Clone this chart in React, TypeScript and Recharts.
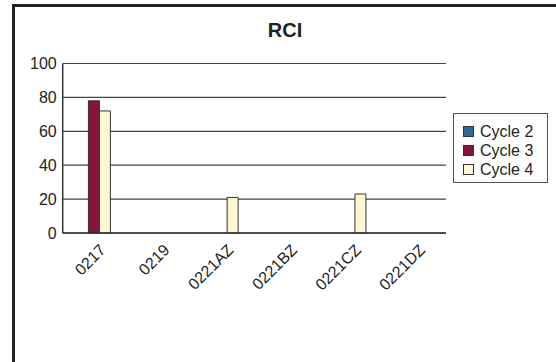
import React from 'react';
import { BarChart, Bar, XAxis, YAxis, CartesianGrid, Legend } from 'recharts';

const categories = ['0217', '0219', '0221AZ', '0221BZ', '0221CZ', '0221DZ'];
const cycle2: (number | null)[] = [null, null, null, null, null, null];
const cycle3: (number | null)[] = [78, null, null, null, null, null];
const cycle4: (number | null)[] = [72, null, 21, null, 23, null];
const yTicks = [0, 20, 40, 60, 80, 100];
const seriesNames = ['Cycle 2', 'Cycle 3', 'Cycle 4'];
const seriesColors = ['#336699', '#84153E', '#FFF6D2'];

const data = categories.map((c, i) => ({
  name: c,
  c2: cycle2[i],
  c3: cycle3[i],
  c4: cycle4[i],
}));

const FONT = '"Liberation Sans", Arial, sans-serif';

const XTick = (props: any) => {
  const { x, y, payload } = props;
  const ax = x + 12;
  const ay = y + 18;
  return (
    <text
      x={ax}
      y={ay}
      transform={`rotate(-45 ${ax} ${ay})`}
      textAnchor="end"
      fontSize={16}
      fontFamily={FONT}
      fill="#222"
    >
      {payload.value}
    </text>
  );
};

const LegendBox = () => (
  <div
    style={{
      width: 93,
      height: 68,
      border: '1px solid #555',
      background: '#fff',
      boxSizing: 'content-box',
      position: 'relative',
      fontFamily: FONT,
      fontSize: 16,
      color: '#222',
    }}
  >
    {seriesNames.map((n, i) => (
      <div
        key={n}
        style={{
          position: 'absolute',
          left: 9,
          top: 8 + i * 19,
          height: 19,
          display: 'flex',
          alignItems: 'center',
          whiteSpace: 'nowrap',
        }}
      >
        <span
          style={{
            display: 'inline-block',
            width: 9,
            height: 9,
            background: seriesColors[i],
            border: '1px solid #333',
            marginRight: 6,
          }}
        />
        <span>{n}</span>
      </div>
    ))}
  </div>
);

export default function App() {
  return (
    <div
      style={{
        position: 'absolute',
        left: 0,
        top: 0,
        width: 556,
        height: 362,
        overflow: 'hidden',
        background: '#fff',
      }}
    >
      <div
        style={{
          position: 'absolute',
          left: 12,
          top: 4,
          width: 620,
          height: 420,
          border: '3px solid #222',
          boxSizing: 'border-box',
        }}
      />
      <svg
        width={556}
        height={60}
        style={{ position: 'absolute', left: 0, top: 0 }}
      >
        <text
          x={285}
          y={37}
          textAnchor="middle"
          fontSize={20}
          fontWeight="bold"
          fontFamily={FONT}
          fill="#222"
        >
          RCI
        </text>
      </svg>
      <div style={{ position: 'absolute', left: 0, top: 0 }}>
        <BarChart
          width={556}
          height={362}
          data={data}
          margin={{ top: 63.5, right: 110, left: 12.7, bottom: 69 }}
          barCategoryGap="23%"
          barGap={0}
        >
          <CartesianGrid vertical={false} stroke="#444" strokeWidth={1.2} />
          <XAxis
            dataKey="name"
            interval={0}
            tickLine={false}
            tickSize={0}
            tickMargin={0}
            height={60}
            axisLine={{ stroke: '#333', strokeWidth: 1.5 }}
            tick={<XTick />}
          />
          <YAxis
            domain={[0, 100]}
            ticks={yTicks}
            interval={0}
            width={50}
            tickLine={false}
            tickSize={0}
            tickMargin={6}
            axisLine={{ stroke: '#333', strokeWidth: 1.5 }}
            tick={{ fontSize: 16, fontFamily: FONT, fill: '#222' }}
          />
          <YAxis
            yAxisId="r"
            orientation="right"
            domain={[0, 100]}
            width={0}
            tick={false}
            tickLine={false}
            axisLine={{ stroke: '#333', strokeWidth: 1.5 }}
          />
          <Legend
            layout="vertical"
            verticalAlign="middle"
            align="center"
            content={<LegendBox />}
            wrapperStyle={{ position: 'absolute', left: 453, top: 113, width: 95 }}
          />
          <Bar dataKey="c2" name="Cycle 2" fill={seriesColors[0]} stroke="#333" strokeWidth={1} isAnimationActive={false} />
          <Bar dataKey="c3" name="Cycle 3" fill={seriesColors[1]} stroke="#333" strokeWidth={1} isAnimationActive={false} />
          <Bar dataKey="c4" name="Cycle 4" fill={seriesColors[2]} stroke="#333" strokeWidth={1} isAnimationActive={false} />
        </BarChart>
      </div>
    </div>
  );
}
